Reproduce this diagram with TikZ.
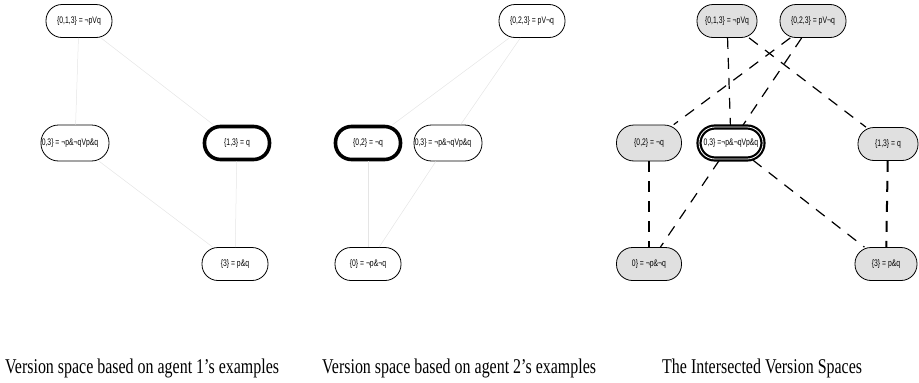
\documentclass[tikz,border=0pt]{standalone}
\usepackage{fontspec}
\setmainfont{Liberation Serif}
\newfontfamily\nodefont[FakeStretch=0.72]{Liberation Sans}
\newfontfamily\capfont[FakeStretch=0.76]{Liberation Serif}
\begin{document}
\begin{tikzpicture}[x=1pt,y=-1pt,
  vs/.style={draw, line width=0.8pt, rounded corners=16pt, minimum width=66pt,
    minimum height=33pt, inner sep=0pt, font=\nodefont\fontsize{9.5}{11}\selectfont},
  tall/.style={minimum height=36pt, rounded corners=17.5pt},
  hl/.style={line width=3.6pt, minimum width=65pt, minimum height=33pt},
  hld/.style={line width=2.2pt, double=white, double distance=0.8pt, minimum width=64pt, minimum height=32pt},
  iv/.style={fill=black!12},
  faint/.style={draw=black!10, line width=0.5pt},
  dsh/.style={draw, line width=1.2pt, dash pattern=on 11pt off 9pt},
  dshb/.style={dsh, line width=2pt},
  captxt/.style={anchor=base west, inner sep=0pt, font=\capfont\fontsize{21}{23}\selectfont}]
\useasboundingbox (0,0) rectangle (919,383);
% left panel
\node[vs] (l013) at (79,21) {\{0,1,3\} = ¬pVq};
\node[vs,tall,minimum width=68pt] (l03) at (75,143) {\kern-10pt0,3\} = ¬p\&¬qVp\&q};
\node[vs,hl] (l13) at (237,143) {\{1,3\} = q};
\node[vs] (l3) at (235,264) {\{3\} = p\&q};
\draw[faint] (l013) -- (l03);
\draw[faint] (l013) -- (l13);
\draw[faint] (l03) -- (l3);
\draw[faint] (l13) -- (l3);
% middle panel
\node[vs] (m023) at (532,21) {\{0,2,3\} = pV¬q};
\node[vs,hl] (m02) at (368,143) {\{0,2\} = ¬q};
\node[vs,tall,minimum width=68pt] (m03) at (448,143) {\kern-10pt0,3\} = ¬p\&¬qVp\&q};
\node[vs] (m0) at (368,264) {\{0\} = ¬p\&¬q};
\draw[faint] (m023) -- (m02);
\draw[faint] (m023) -- (m03);
\draw[faint] (m02) -- (m0);
\draw[faint] (m03) -- (m0);
% right panel
\node[vs,iv,minimum width=60pt] (r013) at (727,21) {\{0,1,3\} = ¬pVq};
\node[vs,iv] (r023) at (813,21) {\{0,2,3\} = pV¬q};
\node[vs,iv,tall,minimum width=65pt] (r02) at (649,143) {\{0,2\} = ¬q};
\node[vs,hld,fill=white] (r03) at (731,143) {0,3\} =¬p\&¬qVp\&q};
\node[vs,iv,minimum width=60pt] (r13) at (888,144) {\{1,3\} = q};
\node[vs,iv,minimum width=65pt] (r0) at (649,264) {0\} = ¬p\&¬q};
\node[vs,iv,minimum width=62pt] (r3) at (886,264) {\{3\} = p\&q};
\draw[dsh] (r013) -- (r03);
\draw[dsh] (r013) -- (r13);
\draw[dsh] (r023) -- (r02);
\draw[dsh] (r023) -- (r03);
\draw[dshb] (r02) -- (r0);
\draw[dsh] (r03) -- (r0);
\draw[dsh] (r03) -- (r3);
\draw[dshb] (r13) -- (r3);
% captions
\node[captxt] (c1) at (5,373) {Version space based on agent 1’s examples};
\node[captxt] (c2) at (322,373) {Version space based on agent 2’s examples};
\node[captxt] (c3) at (662,373) {The Intersected Version Spaces};
\end{tikzpicture}
\end{document}
